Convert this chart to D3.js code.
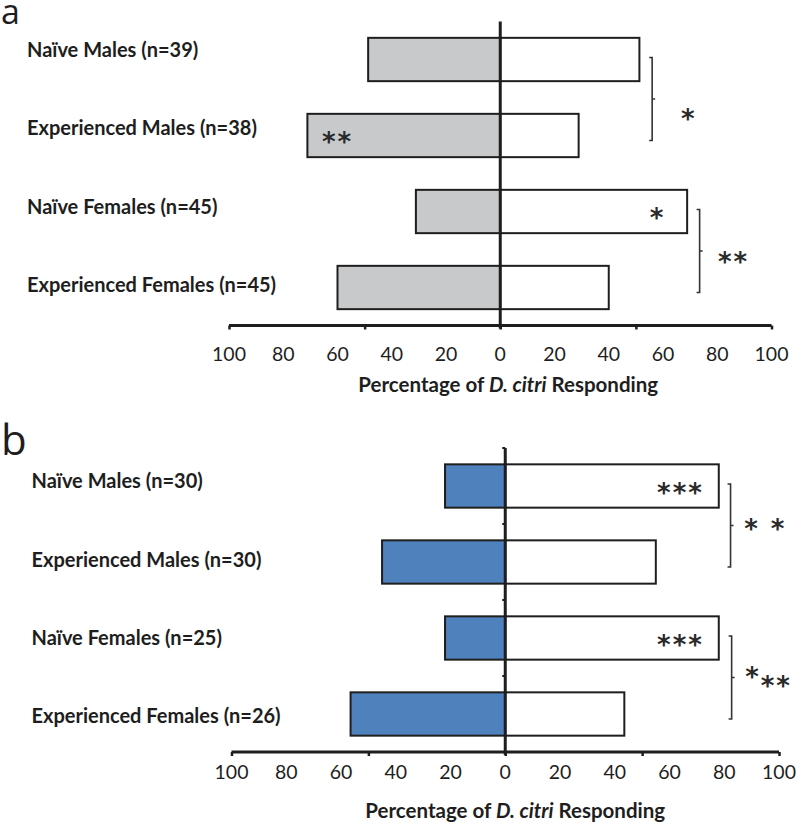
<!DOCTYPE html>
<html>
<head>
<meta charset="utf-8">
<script src="https://cdn.jsdelivr.net/npm/d3@7"></script>
<style>
  html, body { margin: 0; padding: 0; background: #fff; }
  svg { display: block; }
</style>
</head>
<body>
<svg id="chart" width="796" height="824"></svg>
<script>
// ---------- data ----------
const categoriesA = ["Naïve Males (n=39)", "Experienced Males (n=38)", "Naïve Females (n=45)", "Experienced Females (n=45)"];
const controlA = [48.7, 71.1, 31.1, 60.0];   // left (grey) bars
const treatA   = [51.3, 28.9, 68.9, 40.0];   // right (white) bars

const categoriesB = ["Naïve Males (n=30)", "Experienced Males (n=30)", "Naïve Females (n=25)", "Experienced Females (n=26)"];
const controlB = [22.0, 45.0, 22.0, 56.5];   // left (blue) bars
const treatB   = [78.0, 55.0, 78.0, 43.5];   // right (white) bars

const tickLabelValues = [-100, -80, -60, -40, -20, 0, 20, 40, 60, 80, 100];
const tickMarkValues = [-100, -50, 0, 50, 100];
const axisTitle = ["Percentage of ", "D. citri", " Responding"];

// significance marks inside bars: category index, value position, text
const barStarsA = [{cat: 1, x: -60, text: "**"}, {cat: 2, x: 58, text: "*"}];
const barStarsB = [{cat: 0, x: 64, text: "***"}, {cat: 2, x: 64, text: "***"}];
// brackets between categories: from, to, value position
const bracketsA = [{from: 0, to: 1, x: 56, stars: [{dx: 69.5, dy: 0.16, text: "*"}]},
                   {from: 2, to: 3, x: 73.5, stars: [{dx: 86, dy: 0.05, text: "**"}]}];
const bracketsB = [{from: 0, to: 1, x: 82.3, stars: [{dx: 95, dy: -0.04, text: "* *"}]},
                   {from: 2, to: 3, x: 82.7, stars: [{dx: 90.5, dy: -0.08, text: "*"}, {dx: 99, dy: 0.02, text: "**"}]}];

const svg = d3.select("#chart");
const INK = "#1e1e1e";
const STAR_SIZE = 26;

function drawPanel(cfg) {
  const g = svg.append("g");
  const x = d3.scaleLinear().domain([-100, 100]).range(cfg.xRange);
  const y = d3.scaleBand().domain(cfg.categories).range(cfg.yRange)
              .paddingInner(0.43).paddingOuter(0.215);
  const yLab = d3.scalePoint().domain(cfg.categories).range(cfg.labelRange);
  const axisY = cfg.yRange[1];

  // panel letter
  g.append("text").attr("x", cfg.letterPos[0]).attr("y", cfg.letterPos[1])
    .attr("font-family", "Open Sans, sans-serif").attr("font-size", cfg.letterSize)
    .attr("fill", INK).text(cfg.letter);

  // category labels
  g.selectAll("text.cat").data(cfg.categories).join("text")
    .attr("class", "cat")
    .attr("x", cfg.labelX).attr("y", d => yLab(d))
    .attr("font-family", "Lato, sans-serif").attr("font-weight", "bold")
    .attr("font-size", 20).attr("fill", INK).text(d => d);

  // left bars
  g.selectAll("rect.left").data(cfg.control).join("rect")
    .attr("class", "left")
    .attr("x", d => x(-d)).attr("width", d => x(0) - x(-d))
    .attr("y", (d, i) => y(cfg.categories[i])).attr("height", y.bandwidth())
    .attr("fill", cfg.leftFill).attr("stroke", INK).attr("stroke-width", 2);

  // right bars
  g.selectAll("rect.right").data(cfg.treat).join("rect")
    .attr("class", "right")
    .attr("x", x(0)).attr("width", d => x(d) - x(0))
    .attr("y", (d, i) => y(cfg.categories[i])).attr("height", y.bandwidth())
    .attr("fill", "#ffffff").attr("stroke", INK).attr("stroke-width", 2);

  // vertical zero line
  g.append("line").attr("x1", x(0)).attr("x2", x(0))
    .attr("y1", cfg.yRange[0]).attr("y2", axisY + 3)
    .attr("stroke", INK).attr("stroke-width", 3);
  if (cfg.yTicks) {
    const bounds = d3.range(cfg.categories.length).map(i => cfg.yRange[0] + i * y.step());
    g.selectAll("line.yt").data(bounds).join("line").attr("class", "yt")
      .attr("x1", x(0) - 3).attr("x2", x(0)).attr("y1", d => d).attr("y2", d => d)
      .attr("stroke", INK).attr("stroke-width", 2);
  }

  // horizontal axis
  const axis = d3.axisBottom(x).tickValues(tickMarkValues).tickSize(4).tickFormat("");
  const ag = g.append("g").attr("transform", `translate(0,${axisY})`).call(axis);
  ag.select(".domain").attr("stroke", INK).attr("stroke-width", 3)
    .attr("d", `M${cfg.xRange[0]},0H${cfg.xRange[1]}`);
  ag.selectAll(".tick line").attr("stroke", INK).attr("stroke-width", 2.5);

  g.selectAll("text.tl").data(tickLabelValues).join("text").attr("class", "tl")
    .attr("x", d => x(d)).attr("y", axisY + cfg.tickLabelDy)
    .attr("text-anchor", "middle")
    .attr("font-family", "Lato, sans-serif").attr("font-size", 19.5)
    .attr("fill", INK).text(d => Math.abs(d));

  // axis title
  const t = g.append("text").attr("x", x(0) + cfg.titleDx).attr("y", axisY + 66)
    .attr("text-anchor", "middle")
    .attr("font-family", "Lato, sans-serif").attr("font-weight", "bold")
    .attr("font-size", 20.5).attr("fill", INK);
  axisTitle.forEach((s, i) => t.append("tspan").attr("font-style", i === 1 ? "italic" : "normal").text(s));

  const starOffset = STAR_SIZE * 0.6;
  // stars inside bars
  const starY = d => y(cfg.categories[d]) + y.bandwidth() / 2 + starOffset;
  g.selectAll("text.bs").data(cfg.barStars).join("text").attr("class", "bs")
    .attr("x", d => x(d.x)).attr("y", d => starY(d.cat))
    .attr("text-anchor", "middle").attr("letter-spacing", 2)
    .attr("font-family", "DejaVu Sans, sans-serif").attr("font-weight", "bold")
    .attr("font-size", STAR_SIZE).attr("fill", "#2a2a2a").text(d => d.text);

  // brackets
  cfg.brackets.forEach(b => {
    const c0 = y(cfg.categories[b.from]) + y.bandwidth() / 2 - 2;
    const c1 = y(cfg.categories[b.to]) + y.bandwidth() / 2 + 5;
    const bx = x(b.x);
    const mid = (c0 + c1) / 2;
    g.append("path")
      .attr("d", `M${bx - 3},${c0}H${bx}V${c1}H${bx - 3}M${bx},${mid}H${bx + 3}`)
      .attr("fill", "none").attr("stroke", "#333").attr("stroke-width", 1.6);
    b.stars.forEach(s => {
      g.append("text").attr("x", x(s.dx)).attr("y", mid + starOffset + s.dy * (c1 - c0))
        .attr("text-anchor", "middle").attr("letter-spacing", 2)
        .attr("font-family", "DejaVu Sans, sans-serif").attr("font-weight", "bold")
        .attr("font-size", STAR_SIZE).attr("fill", "#2a2a2a").text(s.text);
    });
  });
}

drawPanel({
  letter: "a", letterPos: [1, 24], letterSize: 34,
  categories: categoriesA, control: controlA, treat: treatA,
  xRange: [229, 771.5], yRange: [21.5, 325.5], labelRange: [57.3, 291.7], labelX: 27,
  leftFill: "#c8c9cb", barStars: barStarsA, brackets: bracketsA,
  tickLabelDy: 35, titleDx: 8, yTicks: false
});
drawPanel({
  letter: "b", letterPos: [1, 455], letterSize: 42,
  categories: categoriesB, control: controlB, treat: treatB,
  xRange: [231.5, 779], yRange: [448, 752], labelRange: [488.3, 723.3], labelX: 31.5,
  leftFill: "#4f81bd", barStars: barStarsB, brackets: bracketsB,
  tickLabelDy: 27, titleDx: 10, yTicks: true
});
</script>
</body>
</html>
